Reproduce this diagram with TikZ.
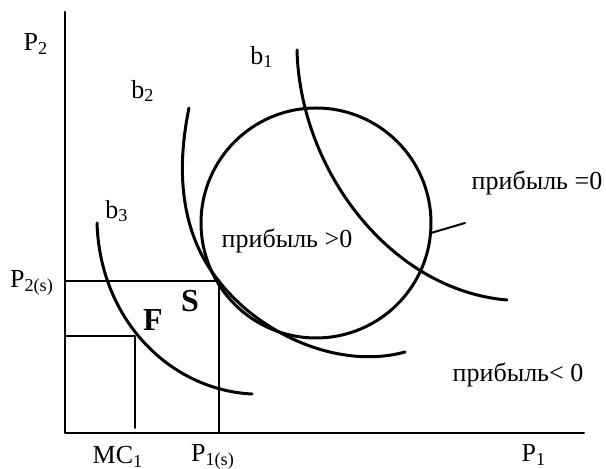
\documentclass[tikz,border=0pt]{standalone}
\usepackage{fontspec}
\setmainfont{Liberation Serif}
\begin{document}
\begin{tikzpicture}[x=0.5pt,y=-0.5pt,line cap=round,line join=round,
  curve/.style={line width=1.5pt},
  thin line/.style={line width=1pt},
  lab/.style={font=\fontsize{13}{15}\selectfont,inner sep=0pt},
  pt/.style={font=\fontsize{16}{18}\selectfont\bfseries,inner sep=0pt}]
\useasboundingbox (0,0) rectangle (606,469);

% --- axes ---
\draw[thin line] (65,12) -- (65,433) -- (584,433);
\node[lab] (ptwo) at (36,44) {P\textsubscript{2}};
\node[lab] (pone) at (534,455) {P\textsubscript{1}};

% --- guide lines for S and F ---
\draw[thin line] (65,281) -- (219,281) -- (219,433);
\draw[thin line] (65,336) -- (135,336) -- (135,428);
\node[lab] (ptwos) at (32,283) {P\textsubscript{2(s)}};
\node[lab] (mcone) at (118,457) {MC\textsubscript{1}};
\node[lab] (pones) at (213,457) {P\textsubscript{1(s)}};

% --- profit circle ---
\draw[curve] (316,223) circle[radius=115];
\draw[thin line] (431,233) -- (465,223);

% --- curves b1, b2, b3 ---
\draw[curve] (297,50) .. controls (300,170) and (390,290) .. (507,300);
\draw[curve] (189,108) .. controls (172,190) and (190,245) .. (218,280)
  .. controls (260,335) and (340,370) .. (405,352);
\draw[curve] (97,223) .. controls (100,320) and (170,390) .. (252,394);
\node[lab] (bone) at (262,57) {b\textsubscript{1}};
\node[lab] (btwo) at (143,91) {b\textsubscript{2}};
\node[lab] (bthree) at (117,211) {b\textsubscript{3}};

% --- points and profit labels ---
\node[pt] (F) at (153,320) {F};
\node[pt] (S) at (190,301) {S};
\node[lab] (profpos) at (287,241) {прибыль >0};
\node[lab] (profzero) at (537,183) {прибыль =0};
\node[lab] (profneg) at (518,375) {прибыль< 0};

\end{tikzpicture}
\end{document}
